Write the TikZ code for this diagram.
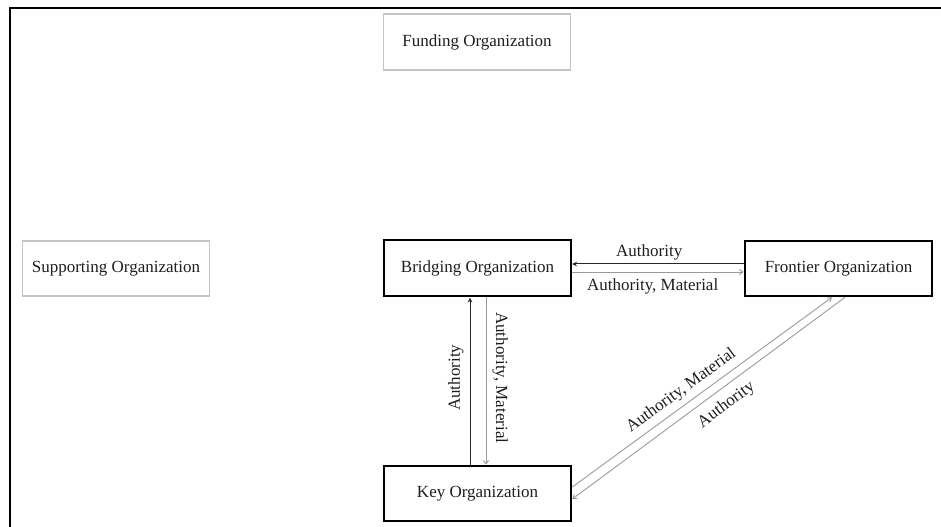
\documentclass[tikz,border=0pt]{standalone}
\usepackage{fontspec}
\setmainfont{Liberation Serif}
\usetikzlibrary{arrows.meta,calc}
\definecolor{inkc}{HTML}{1E1E1E}
\definecolor{faintbox}{HTML}{C4C4C4}
\definecolor{flowgray}{HTML}{9A9A9A}
\begin{document}
\begin{tikzpicture}[x=1bp,y=-1bp,
  lbl/.style={font=\fontsize{17bp}{20bp}\selectfont, text=inkc},
  org/.style={lbl, draw, minimum width=187bp, minimum height=56bp, inner sep=0pt},
  mainorg/.style={org, draw=black, line width=2bp},
  coreorg/.style={org, draw=black, line width=2.6bp},
  sideorg/.style={org, draw=faintbox, line width=1.3bp},
  authline/.style={draw=black!85, line width=1bp},
  flowline/.style={draw=flowgray, line width=0.9bp},
  toA/.style={-{Stealth[length=5bp,width=4.5bp]}},
  fromA/.style={{Stealth[length=5bp,width=4.5bp]}-},
  toG/.style={-{Straight Barb[length=3.5bp,width=5bp]}},
  fromG/.style={{Straight Barb[length=3.5bp,width=5bp]}-},
]
\useasboundingbox (0,0) rectangle (941,527);
% frame edges
\draw[line width=2.5bp, line cap=rect] (10,527) -- (10,8) -- (941,8);

% organizations
\node[sideorg] (fund) at (477,42) {Funding Organization};
\node[sideorg, minimum height=55bp] (supp) at (116,268.5) {Supporting Organization};
\node[mainorg] (bridge) at (477.5,268.5) {Bridging Organization};
\node[coreorg, minimum height=55bp] (front) at (838.5,268.5) {Frontier Organization};
\node[coreorg, minimum height=55bp] (key) at (477.5,493.5) {Key Organization};

% bridging <-> frontier
\draw[authline, fromA] (bridge.east |- 0,264) -- (front.west |- 0,264)
  node[lbl, pos=0.45, above, inner sep=3bp] {Authority};
\draw[flowline, toG] (bridge.east |- 0,272) -- (front.west |- 0,272)
  node[lbl, pos=0.47, below, inner sep=6bp] {Authority, Material};

% key <-> bridging
\draw[authline, toA] (key.north -| 470,0) -- (bridge.south -| 470,0)
  node[lbl, pos=0.52, rotate=90, anchor=south, inner sep=6bp] {Authority};
\draw[flowline, toG] (bridge.south -| 486,0) -- (key.north -| 486,0)
  node[lbl, pos=0.48, rotate=-90, anchor=south, inner sep=6bp] {Authority, Material};

% key <-> frontier
\draw[flowline, toG] ($(key.east)+(0,-6.5)$) -- (front.south -| 832,0)
  node[lbl, pos=0.45, sloped, above, inner sep=5bp] {Authority, Material};
\draw[flowline, fromG] ($(key.east)+(0,5.5)$) -- (front.south -| 845,0)
  node[lbl, pos=0.53, sloped, below, inner sep=8bp] {Authority};
\end{tikzpicture}
\end{document}
